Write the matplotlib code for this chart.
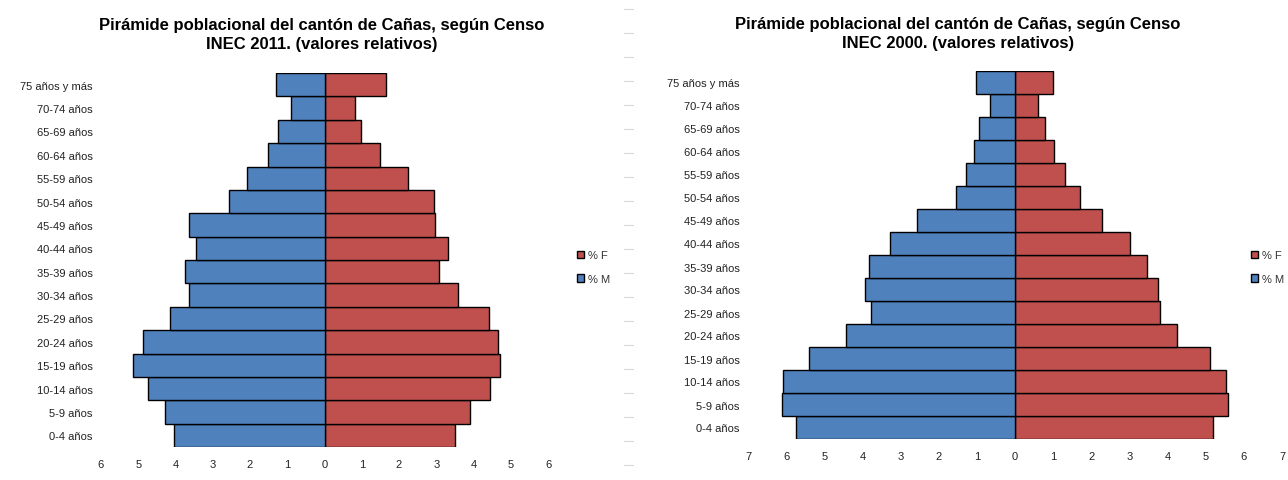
import matplotlib
matplotlib.use("Agg")
import matplotlib.pyplot as plt
import numpy as np
from matplotlib.lines import Line2D

plt.rcParams['font.family'] = ['Liberation Sans', 'DejaVu Sans']

categories = ["0-4 años", "5-9 años", "10-14 años", "15-19 años", "20-24 años",
              "25-29 años", "30-34 años", "35-39 años", "40-44 años", "45-49 años",
              "50-54 años", "55-59 años", "60-64 años", "65-69 años", "70-74 años",
              "75 años y más"]

m_2011 = [4.03, 4.29, 4.74, 5.15, 4.87, 4.16, 3.65, 3.75, 3.46, 3.65,
          2.56, 2.08, 1.53, 1.24, 0.89, 1.31]
f_2011 = [3.51, 3.90, 4.44, 4.70, 4.66, 4.41, 3.58, 3.07, 3.32, 2.97,
          2.93, 2.25, 1.48, 0.97, 0.81, 1.65]

m_2000 = [5.75, 6.10, 6.07, 5.41, 4.43, 3.77, 3.93, 3.83, 3.27, 2.57,
          1.54, 1.29, 1.07, 0.95, 0.65, 1.03]
f_2000 = [5.19, 5.59, 5.53, 5.12, 4.24, 3.80, 3.74, 3.45, 3.02, 2.27,
          1.70, 1.32, 1.03, 0.78, 0.60, 1.00]

title_2011 = "Pirámide poblacional del cantón de Cañas, según Censo\nINEC 2011. (valores relativos)"
title_2000 = "Pirámide poblacional del cantón de Cañas, según Censo\nINEC 2000. (valores relativos)"

BLUE = "#4F81BD"
RED = "#C0504D"

W, H = 1288, 481
fig = plt.figure(figsize=(W / 100, H / 100), dpi=100)


def px_axes(x0, x1, ytop, ybot):
    return fig.add_axes([x0 / W, 1 - ybot / H, (x1 - x0) / W, (ybot - ytop) / H])


def pyramid(ax, m, f, lim, legend_pos):
    y = np.arange(len(categories))
    bf = ax.barh(y, f, height=1.0, color=RED, edgecolor="black", linewidth=1.0, label="% F")
    bm = ax.barh(y, [-v for v in m], height=1.0, color=BLUE, edgecolor="black", linewidth=1.0, label="% M")
    ax.set_xlim(-lim, lim)
    ax.set_ylim(-0.5, len(categories) - 0.5)
    ticks = np.arange(-lim, lim + 1)
    ax.set_xticks(ticks)
    ax.set_xticklabels([str(abs(int(t))) for t in ticks], fontsize=8, color="#222222")
    ax.set_yticks(y)
    ax.set_yticklabels(categories, fontsize=8, color="#222222")
    for s in ax.spines.values():
        s.set_visible(False)
    ax.tick_params(axis="both", length=0)
    ax.tick_params(axis="x", pad=9)
    ax.tick_params(axis="y", pad=6)
    leg = fig.legend(handles=[bf, bm], labels=["% F", "% M"], loc="center left",
                     bbox_to_anchor=legend_pos, frameon=False, fontsize=8,
                     handlelength=0.7, handleheight=0.7, handletextpad=0.3,
                     labelspacing=1.2, borderpad=0)
    for t in leg.get_texts():
        t.set_color("#333333")


ax1 = px_axes(101, 548, 74, 448)
pyramid(ax1, m_2011, f_2011, 6, (571 / W, 1 - 268 / H))
fig.text(322 / W, 1 - 35 / H, title_2011, ha="center", va="center",
         fontsize=12, fontweight="bold", linespacing=1.3)

ax2 = px_axes(748, 1282, 72, 440)
pyramid(ax2, m_2000, f_2000, 7, (1245 / W, 1 - 268 / H))
fig.text(958 / W, 1 - 34 / H, title_2000, ha="center", va="center",
         fontsize=12, fontweight="bold", linespacing=1.3)

# faint divider ticks between the two charts
for yy in np.arange(10, 470, 24):
    fig.add_artist(Line2D([624 / W, 633 / W], [1 - yy / H, 1 - yy / H],
                          transform=fig.transFigure, color="#d9d9d9", linewidth=0.8))

fig.savefig("out.png", dpi=100)
